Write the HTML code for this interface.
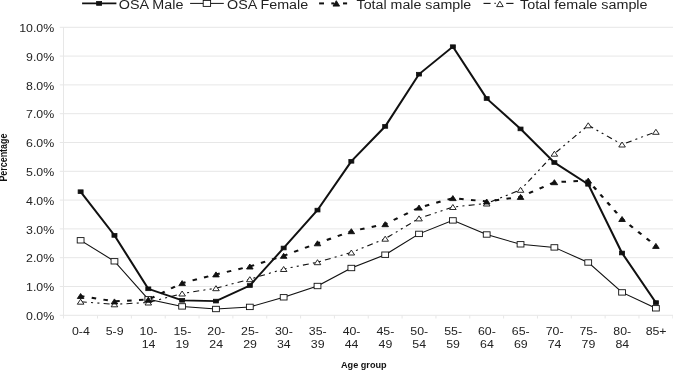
<!DOCTYPE html><html><head><meta charset="utf-8"><style>html,body{margin:0;padding:0;background:#fff;}svg{display:block;will-change:transform;}text{font-family:"Liberation Sans",sans-serif;}</style></head><body>
<svg width="673" height="370" viewBox="0 0 673 370">
<rect width="673" height="370" fill="#fff"/>
<line x1="59.8" y1="315.30" x2="673" y2="315.30" stroke="#e7e7e7" stroke-width="1"/>
<line x1="59.8" y1="286.50" x2="673" y2="286.50" stroke="#e7e7e7" stroke-width="1"/>
<line x1="59.8" y1="257.70" x2="673" y2="257.70" stroke="#e7e7e7" stroke-width="1"/>
<line x1="59.8" y1="228.90" x2="673" y2="228.90" stroke="#e7e7e7" stroke-width="1"/>
<line x1="59.8" y1="200.10" x2="673" y2="200.10" stroke="#e7e7e7" stroke-width="1"/>
<line x1="59.8" y1="171.30" x2="673" y2="171.30" stroke="#e7e7e7" stroke-width="1"/>
<line x1="59.8" y1="142.50" x2="673" y2="142.50" stroke="#e7e7e7" stroke-width="1"/>
<line x1="59.8" y1="113.70" x2="673" y2="113.70" stroke="#e7e7e7" stroke-width="1"/>
<line x1="59.8" y1="84.90" x2="673" y2="84.90" stroke="#e7e7e7" stroke-width="1"/>
<line x1="59.8" y1="56.10" x2="673" y2="56.10" stroke="#e7e7e7" stroke-width="1"/>
<line x1="59.8" y1="27.30" x2="673" y2="27.30" stroke="#e7e7e7" stroke-width="1"/>
<line x1="63.5" y1="27.30" x2="63.5" y2="318.5" stroke="#e7e7e7" stroke-width="1"/>
<line x1="97.54" y1="315.30" x2="97.54" y2="318.5" stroke="#e7e7e7" stroke-width="1"/>
<line x1="131.38" y1="315.30" x2="131.38" y2="318.5" stroke="#e7e7e7" stroke-width="1"/>
<line x1="165.22" y1="315.30" x2="165.22" y2="318.5" stroke="#e7e7e7" stroke-width="1"/>
<line x1="199.06" y1="315.30" x2="199.06" y2="318.5" stroke="#e7e7e7" stroke-width="1"/>
<line x1="232.90" y1="315.30" x2="232.90" y2="318.5" stroke="#e7e7e7" stroke-width="1"/>
<line x1="266.74" y1="315.30" x2="266.74" y2="318.5" stroke="#e7e7e7" stroke-width="1"/>
<line x1="300.58" y1="315.30" x2="300.58" y2="318.5" stroke="#e7e7e7" stroke-width="1"/>
<line x1="334.42" y1="315.30" x2="334.42" y2="318.5" stroke="#e7e7e7" stroke-width="1"/>
<line x1="368.26" y1="315.30" x2="368.26" y2="318.5" stroke="#e7e7e7" stroke-width="1"/>
<line x1="402.10" y1="315.30" x2="402.10" y2="318.5" stroke="#e7e7e7" stroke-width="1"/>
<line x1="435.94" y1="315.30" x2="435.94" y2="318.5" stroke="#e7e7e7" stroke-width="1"/>
<line x1="469.78" y1="315.30" x2="469.78" y2="318.5" stroke="#e7e7e7" stroke-width="1"/>
<line x1="503.62" y1="315.30" x2="503.62" y2="318.5" stroke="#e7e7e7" stroke-width="1"/>
<line x1="537.46" y1="315.30" x2="537.46" y2="318.5" stroke="#e7e7e7" stroke-width="1"/>
<line x1="571.30" y1="315.30" x2="571.30" y2="318.5" stroke="#e7e7e7" stroke-width="1"/>
<line x1="605.14" y1="315.30" x2="605.14" y2="318.5" stroke="#e7e7e7" stroke-width="1"/>
<line x1="638.98" y1="315.30" x2="638.98" y2="318.5" stroke="#e7e7e7" stroke-width="1"/>
<line x1="672.82" y1="315.30" x2="672.82" y2="318.5" stroke="#e7e7e7" stroke-width="1"/>
<text transform="translate(54.2,319.90) scale(1.2,1)" text-anchor="end" font-size="10.3" fill="#222">0.0%</text>
<text transform="translate(54.2,291.10) scale(1.2,1)" text-anchor="end" font-size="10.3" fill="#222">1.0%</text>
<text transform="translate(54.2,262.30) scale(1.2,1)" text-anchor="end" font-size="10.3" fill="#222">2.0%</text>
<text transform="translate(54.2,233.50) scale(1.2,1)" text-anchor="end" font-size="10.3" fill="#222">3.0%</text>
<text transform="translate(54.2,204.70) scale(1.2,1)" text-anchor="end" font-size="10.3" fill="#222">4.0%</text>
<text transform="translate(54.2,175.90) scale(1.2,1)" text-anchor="end" font-size="10.3" fill="#222">5.0%</text>
<text transform="translate(54.2,147.10) scale(1.2,1)" text-anchor="end" font-size="10.3" fill="#222">6.0%</text>
<text transform="translate(54.2,118.30) scale(1.2,1)" text-anchor="end" font-size="10.3" fill="#222">7.0%</text>
<text transform="translate(54.2,89.50) scale(1.2,1)" text-anchor="end" font-size="10.3" fill="#222">8.0%</text>
<text transform="translate(54.2,60.70) scale(1.2,1)" text-anchor="end" font-size="10.3" fill="#222">9.0%</text>
<text transform="translate(54.2,31.90) scale(1.2,1)" text-anchor="end" font-size="10.3" fill="#222">10.0%</text>
<text transform="translate(80.82,334.9) scale(1.2,1)" text-anchor="middle" font-size="10.3" fill="#222">0-4</text>
<text transform="translate(114.66,334.9) scale(1.2,1)" text-anchor="middle" font-size="10.3" fill="#222">5-9</text>
<text transform="translate(148.50,334.9) scale(1.2,1)" text-anchor="middle" font-size="10.3" fill="#222">10-</text>
<text transform="translate(148.50,347.5) scale(1.2,1)" text-anchor="middle" font-size="10.3" fill="#222">14</text>
<text transform="translate(182.34,334.9) scale(1.2,1)" text-anchor="middle" font-size="10.3" fill="#222">15-</text>
<text transform="translate(182.34,347.5) scale(1.2,1)" text-anchor="middle" font-size="10.3" fill="#222">19</text>
<text transform="translate(216.18,334.9) scale(1.2,1)" text-anchor="middle" font-size="10.3" fill="#222">20-</text>
<text transform="translate(216.18,347.5) scale(1.2,1)" text-anchor="middle" font-size="10.3" fill="#222">24</text>
<text transform="translate(250.02,334.9) scale(1.2,1)" text-anchor="middle" font-size="10.3" fill="#222">25-</text>
<text transform="translate(250.02,347.5) scale(1.2,1)" text-anchor="middle" font-size="10.3" fill="#222">29</text>
<text transform="translate(283.86,334.9) scale(1.2,1)" text-anchor="middle" font-size="10.3" fill="#222">30-</text>
<text transform="translate(283.86,347.5) scale(1.2,1)" text-anchor="middle" font-size="10.3" fill="#222">34</text>
<text transform="translate(317.70,334.9) scale(1.2,1)" text-anchor="middle" font-size="10.3" fill="#222">35-</text>
<text transform="translate(317.70,347.5) scale(1.2,1)" text-anchor="middle" font-size="10.3" fill="#222">39</text>
<text transform="translate(351.54,334.9) scale(1.2,1)" text-anchor="middle" font-size="10.3" fill="#222">40-</text>
<text transform="translate(351.54,347.5) scale(1.2,1)" text-anchor="middle" font-size="10.3" fill="#222">44</text>
<text transform="translate(385.38,334.9) scale(1.2,1)" text-anchor="middle" font-size="10.3" fill="#222">45-</text>
<text transform="translate(385.38,347.5) scale(1.2,1)" text-anchor="middle" font-size="10.3" fill="#222">49</text>
<text transform="translate(419.22,334.9) scale(1.2,1)" text-anchor="middle" font-size="10.3" fill="#222">50-</text>
<text transform="translate(419.22,347.5) scale(1.2,1)" text-anchor="middle" font-size="10.3" fill="#222">54</text>
<text transform="translate(453.06,334.9) scale(1.2,1)" text-anchor="middle" font-size="10.3" fill="#222">55-</text>
<text transform="translate(453.06,347.5) scale(1.2,1)" text-anchor="middle" font-size="10.3" fill="#222">59</text>
<text transform="translate(486.90,334.9) scale(1.2,1)" text-anchor="middle" font-size="10.3" fill="#222">60-</text>
<text transform="translate(486.90,347.5) scale(1.2,1)" text-anchor="middle" font-size="10.3" fill="#222">64</text>
<text transform="translate(520.74,334.9) scale(1.2,1)" text-anchor="middle" font-size="10.3" fill="#222">65-</text>
<text transform="translate(520.74,347.5) scale(1.2,1)" text-anchor="middle" font-size="10.3" fill="#222">69</text>
<text transform="translate(554.58,334.9) scale(1.2,1)" text-anchor="middle" font-size="10.3" fill="#222">70-</text>
<text transform="translate(554.58,347.5) scale(1.2,1)" text-anchor="middle" font-size="10.3" fill="#222">74</text>
<text transform="translate(588.42,334.9) scale(1.2,1)" text-anchor="middle" font-size="10.3" fill="#222">75-</text>
<text transform="translate(588.42,347.5) scale(1.2,1)" text-anchor="middle" font-size="10.3" fill="#222">79</text>
<text transform="translate(622.26,334.9) scale(1.2,1)" text-anchor="middle" font-size="10.3" fill="#222">80-</text>
<text transform="translate(622.26,347.5) scale(1.2,1)" text-anchor="middle" font-size="10.3" fill="#222">84</text>
<text transform="translate(656.10,334.9) scale(1.2,1)" text-anchor="middle" font-size="10.3" fill="#222">85+</text>
<text transform="translate(7.0,157.6) scale(1.25,1) rotate(-90)" text-anchor="middle" font-size="8.9" font-weight="bold" fill="#111">Percentage</text>
<text x="341.0" y="367.5" textLength="45.6" lengthAdjust="spacingAndGlyphs" font-size="9.6" font-weight="bold" fill="#111">Age group</text>
<g transform="scale(1.235,1)"><polyline points="65.279,301.70 92.680,304.30 120.081,302.50 147.482,293.50 174.883,288.20 202.283,279.20 229.684,269.00 257.085,262.20 284.486,252.50 311.887,238.70 339.287,218.40 366.688,207.00 394.089,203.50 421.490,189.80 448.891,153.70 476.291,125.30 503.692,144.50 531.093,131.80" fill="none" stroke="#111" stroke-width="1.05" stroke-dasharray="4.9 3.425 1.7 3.425 1.7 3.425" stroke-dashoffset="18.456"/></g>
<polygon points="77.32,304.20 80.62,299.20 83.92,304.20" fill="#fff" stroke="#111" stroke-width="0.9"/>
<polygon points="111.16,306.80 114.46,301.80 117.76,306.80" fill="#fff" stroke="#111" stroke-width="0.9"/>
<polygon points="145.00,305.00 148.30,300.00 151.60,305.00" fill="#fff" stroke="#111" stroke-width="0.9"/>
<polygon points="178.84,296.00 182.14,291.00 185.44,296.00" fill="#fff" stroke="#111" stroke-width="0.9"/>
<polygon points="212.68,290.70 215.98,285.70 219.28,290.70" fill="#fff" stroke="#111" stroke-width="0.9"/>
<polygon points="246.52,281.70 249.82,276.70 253.12,281.70" fill="#fff" stroke="#111" stroke-width="0.9"/>
<polygon points="280.36,271.50 283.66,266.50 286.96,271.50" fill="#fff" stroke="#111" stroke-width="0.9"/>
<polygon points="314.20,264.70 317.50,259.70 320.80,264.70" fill="#fff" stroke="#111" stroke-width="0.9"/>
<polygon points="348.04,255.00 351.34,250.00 354.64,255.00" fill="#fff" stroke="#111" stroke-width="0.9"/>
<polygon points="381.88,241.20 385.18,236.20 388.48,241.20" fill="#fff" stroke="#111" stroke-width="0.9"/>
<polygon points="415.72,220.90 419.02,215.90 422.32,220.90" fill="#fff" stroke="#111" stroke-width="0.9"/>
<polygon points="449.56,209.50 452.86,204.50 456.16,209.50" fill="#fff" stroke="#111" stroke-width="0.9"/>
<polygon points="483.40,206.00 486.70,201.00 490.00,206.00" fill="#fff" stroke="#111" stroke-width="0.9"/>
<polygon points="517.24,192.30 520.54,187.30 523.84,192.30" fill="#fff" stroke="#111" stroke-width="0.9"/>
<polygon points="551.08,156.20 554.38,151.20 557.68,156.20" fill="#fff" stroke="#111" stroke-width="0.9"/>
<polygon points="584.92,127.80 588.22,122.80 591.52,127.80" fill="#fff" stroke="#111" stroke-width="0.9"/>
<polygon points="618.76,147.00 622.06,142.00 625.36,147.00" fill="#fff" stroke="#111" stroke-width="0.9"/>
<polygon points="652.60,134.30 655.90,129.30 659.20,134.30" fill="#fff" stroke="#111" stroke-width="0.9"/>
<g transform="scale(1.235,1)"><polyline points="65.279,191.70 92.680,235.40 120.081,288.80 147.482,300.30 174.883,301.10 202.283,285.50 229.684,248.00 257.085,210.10 284.486,161.30 311.887,126.40 339.287,74.20 366.688,46.70 394.089,98.50 421.490,128.90 448.891,162.50 476.291,184.30 503.692,253.00 531.093,302.60" fill="none" stroke="#111" stroke-width="1.75"/></g>
<rect x="78.12" y="189.85" width="5.00" height="3.70" fill="#111" stroke="#111" stroke-width="0.8"/>
<rect x="111.96" y="233.55" width="5.00" height="3.70" fill="#111" stroke="#111" stroke-width="0.8"/>
<rect x="145.80" y="286.95" width="5.00" height="3.70" fill="#111" stroke="#111" stroke-width="0.8"/>
<rect x="179.64" y="298.45" width="5.00" height="3.70" fill="#111" stroke="#111" stroke-width="0.8"/>
<rect x="213.48" y="299.25" width="5.00" height="3.70" fill="#111" stroke="#111" stroke-width="0.8"/>
<rect x="247.32" y="283.65" width="5.00" height="3.70" fill="#111" stroke="#111" stroke-width="0.8"/>
<rect x="281.16" y="246.15" width="5.00" height="3.70" fill="#111" stroke="#111" stroke-width="0.8"/>
<rect x="315.00" y="208.25" width="5.00" height="3.70" fill="#111" stroke="#111" stroke-width="0.8"/>
<rect x="348.84" y="159.45" width="5.00" height="3.70" fill="#111" stroke="#111" stroke-width="0.8"/>
<rect x="382.68" y="124.55" width="5.00" height="3.70" fill="#111" stroke="#111" stroke-width="0.8"/>
<rect x="416.52" y="72.35" width="5.00" height="3.70" fill="#111" stroke="#111" stroke-width="0.8"/>
<rect x="450.36" y="44.85" width="5.00" height="3.70" fill="#111" stroke="#111" stroke-width="0.8"/>
<rect x="484.20" y="96.65" width="5.00" height="3.70" fill="#111" stroke="#111" stroke-width="0.8"/>
<rect x="518.04" y="127.05" width="5.00" height="3.70" fill="#111" stroke="#111" stroke-width="0.8"/>
<rect x="551.88" y="160.65" width="5.00" height="3.70" fill="#111" stroke="#111" stroke-width="0.8"/>
<rect x="585.72" y="182.45" width="5.00" height="3.70" fill="#111" stroke="#111" stroke-width="0.8"/>
<rect x="619.56" y="251.15" width="5.00" height="3.70" fill="#111" stroke="#111" stroke-width="0.8"/>
<rect x="653.40" y="300.75" width="5.00" height="3.70" fill="#111" stroke="#111" stroke-width="0.8"/>
<g transform="scale(1.235,1)"><polyline points="65.279,240.30 92.680,261.30 120.081,299.30 147.482,306.40 174.883,309.00 202.283,306.90 229.684,297.30 257.085,286.00 284.486,268.00 311.887,254.70 339.287,233.90 366.688,220.40 394.089,234.50 421.490,244.30 448.891,247.40 476.291,262.50 503.692,292.40 531.093,308.30" fill="none" stroke="#111" stroke-width="1"/></g>
<rect x="77.22" y="237.60" width="6.80" height="5.40" fill="#fff" stroke="#111" stroke-width="0.9"/>
<rect x="111.06" y="258.60" width="6.80" height="5.40" fill="#fff" stroke="#111" stroke-width="0.9"/>
<rect x="144.90" y="296.60" width="6.80" height="5.40" fill="#fff" stroke="#111" stroke-width="0.9"/>
<rect x="178.74" y="303.70" width="6.80" height="5.40" fill="#fff" stroke="#111" stroke-width="0.9"/>
<rect x="212.58" y="306.30" width="6.80" height="5.40" fill="#fff" stroke="#111" stroke-width="0.9"/>
<rect x="246.42" y="304.20" width="6.80" height="5.40" fill="#fff" stroke="#111" stroke-width="0.9"/>
<rect x="280.26" y="294.60" width="6.80" height="5.40" fill="#fff" stroke="#111" stroke-width="0.9"/>
<rect x="314.10" y="283.30" width="6.80" height="5.40" fill="#fff" stroke="#111" stroke-width="0.9"/>
<rect x="347.94" y="265.30" width="6.80" height="5.40" fill="#fff" stroke="#111" stroke-width="0.9"/>
<rect x="381.78" y="252.00" width="6.80" height="5.40" fill="#fff" stroke="#111" stroke-width="0.9"/>
<rect x="415.62" y="231.20" width="6.80" height="5.40" fill="#fff" stroke="#111" stroke-width="0.9"/>
<rect x="449.46" y="217.70" width="6.80" height="5.40" fill="#fff" stroke="#111" stroke-width="0.9"/>
<rect x="483.30" y="231.80" width="6.80" height="5.40" fill="#fff" stroke="#111" stroke-width="0.9"/>
<rect x="517.14" y="241.60" width="6.80" height="5.40" fill="#fff" stroke="#111" stroke-width="0.9"/>
<rect x="550.98" y="244.70" width="6.80" height="5.40" fill="#fff" stroke="#111" stroke-width="0.9"/>
<rect x="584.82" y="259.80" width="6.80" height="5.40" fill="#fff" stroke="#111" stroke-width="0.9"/>
<rect x="618.66" y="289.70" width="6.80" height="5.40" fill="#fff" stroke="#111" stroke-width="0.9"/>
<rect x="652.50" y="305.60" width="6.80" height="5.40" fill="#fff" stroke="#111" stroke-width="0.9"/>
<g transform="scale(1.235,1)"><polyline points="65.279,296.00 92.680,301.40 120.081,299.60 147.482,283.10 174.883,274.40 202.283,266.50 229.684,255.80 257.085,243.30 284.486,231.20 311.887,224.20 339.287,207.60 366.688,198.10 394.089,201.50 421.490,196.90 448.891,182.20 476.291,180.60 503.692,219.00 531.093,245.90" fill="none" stroke="#111" stroke-width="2" stroke-dasharray="3.7 5.98" stroke-dashoffset="0.555"/></g>
<polygon points="77.32,298.50 80.62,293.50 83.92,298.50" fill="#111" stroke="#111" stroke-width="0.9"/>
<polygon points="111.16,303.90 114.46,298.90 117.76,303.90" fill="#111" stroke="#111" stroke-width="0.9"/>
<polygon points="145.00,302.10 148.30,297.10 151.60,302.10" fill="#111" stroke="#111" stroke-width="0.9"/>
<polygon points="178.84,285.60 182.14,280.60 185.44,285.60" fill="#111" stroke="#111" stroke-width="0.9"/>
<polygon points="212.68,276.90 215.98,271.90 219.28,276.90" fill="#111" stroke="#111" stroke-width="0.9"/>
<polygon points="246.52,269.00 249.82,264.00 253.12,269.00" fill="#111" stroke="#111" stroke-width="0.9"/>
<polygon points="280.36,258.30 283.66,253.30 286.96,258.30" fill="#111" stroke="#111" stroke-width="0.9"/>
<polygon points="314.20,245.80 317.50,240.80 320.80,245.80" fill="#111" stroke="#111" stroke-width="0.9"/>
<polygon points="348.04,233.70 351.34,228.70 354.64,233.70" fill="#111" stroke="#111" stroke-width="0.9"/>
<polygon points="381.88,226.70 385.18,221.70 388.48,226.70" fill="#111" stroke="#111" stroke-width="0.9"/>
<polygon points="415.72,210.10 419.02,205.10 422.32,210.10" fill="#111" stroke="#111" stroke-width="0.9"/>
<polygon points="449.56,200.60 452.86,195.60 456.16,200.60" fill="#111" stroke="#111" stroke-width="0.9"/>
<polygon points="483.40,204.00 486.70,199.00 490.00,204.00" fill="#111" stroke="#111" stroke-width="0.9"/>
<polygon points="517.24,199.40 520.54,194.40 523.84,199.40" fill="#111" stroke="#111" stroke-width="0.9"/>
<polygon points="551.08,184.70 554.38,179.70 557.68,184.70" fill="#111" stroke="#111" stroke-width="0.9"/>
<polygon points="584.92,183.10 588.22,178.10 591.52,183.10" fill="#111" stroke="#111" stroke-width="0.9"/>
<polygon points="618.76,221.50 622.06,216.50 625.36,221.50" fill="#111" stroke="#111" stroke-width="0.9"/>
<polygon points="652.60,248.40 655.90,243.40 659.20,248.40" fill="#111" stroke="#111" stroke-width="0.9"/>
<line x1="82.1" y1="3.4" x2="116.4" y2="3.4" stroke="#111" stroke-width="1.7"/>
<rect x="96.60" y="1.50" width="5.00" height="3.80" fill="#111" stroke="#111" stroke-width="0.8"/>
<text transform="translate(118.82,8.7) scale(1.1963,1)" font-size="12" fill="#222">OSA Male</text>
<line x1="190.1" y1="3.4" x2="223.8" y2="3.4" stroke="#111" stroke-width="1"/>
<rect x="203.20" y="0.40" width="7.40" height="6.00" fill="#fff" stroke="#111" stroke-width="0.9"/>
<text transform="translate(227.12,8.7) scale(1.1925,1)" font-size="12" fill="#222">OSA Female</text>
<line x1="319.1" y1="3.4" x2="324" y2="3.4" stroke="#111" stroke-width="2"/>
<line x1="331.3" y1="3.4" x2="334" y2="3.4" stroke="#111" stroke-width="2"/>
<polygon points="333.00,6.10 336.30,0.70 339.60,6.10" fill="#111" stroke="#111" stroke-width="0.9"/>
<line x1="343" y1="3.4" x2="347.1" y2="3.4" stroke="#111" stroke-width="2"/>
<text transform="translate(356.58,8.7) scale(1.1858,1)" font-size="12" fill="#222">Total male sample</text>
<line x1="483.5" y1="3.4" x2="490.6" y2="3.4" stroke="#111" stroke-width="1.1"/>
<line x1="494.5" y1="3.4" x2="495.7" y2="3.4" stroke="#111" stroke-width="1.1"/>
<polygon points="496.60,6.60 499.90,1.20 503.20,6.60" fill="#fff" stroke="#111" stroke-width="0.9"/>
<line x1="506.2" y1="3.4" x2="513.5" y2="3.4" stroke="#111" stroke-width="1.1"/>
<text transform="translate(519.98,8.7) scale(1.1963,1)" font-size="12" fill="#222">Total female sample</text>
</svg></body></html>
